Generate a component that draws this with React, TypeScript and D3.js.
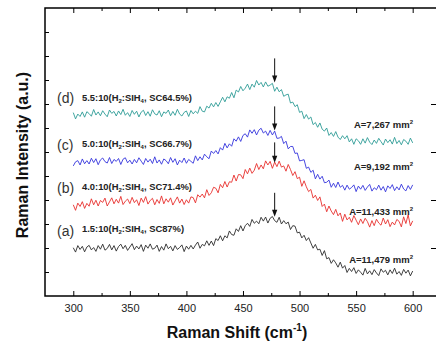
import React, { useEffect, useRef } from 'react';
import * as d3 from 'd3';

const W = 436;
const H = 344;

// raman shift grid (cm-1), every 2 points
const shift = d3.range(300, 601, 2);

const xMajor = [300, 350, 400, 450, 500, 550, 600];
const xMinor = [325, 375, 425, 475, 525, 575];
const yLeftTicks = [1, 2, 3, 4, 5, 6, 7, 8, 9, 10, 11];
const yRightTicks = [2, 4, 6, 8];

// (a) 1.5:10
const curveA = [
  2.01, 1.83, 2.10, 1.94, 2.07, 1.84, 2.04, 2.11, 1.92, 2.02,
  1.86, 2.10, 1.95, 2.16, 1.91, 1.98, 2.15, 1.92, 2.10, 1.87,
  2.06, 2.16, 1.97, 2.11, 1.90, 2.04, 2.18, 1.93, 2.08, 1.96,
  2.14, 1.86, 2.12, 1.99, 2.17, 1.95, 1.99, 2.12, 1.86, 2.06,
  1.91, 2.17, 1.97, 2.07, 1.88, 2.10, 1.94, 2.02, 2.13, 1.85,
  2.08, 1.95, 2.11, 1.96, 2.12, 2.25, 1.99, 2.15, 2.09, 2.30,
  2.11, 2.29, 2.10, 2.39, 2.31, 2.51, 2.30, 2.51, 2.42, 2.71,
  2.56, 2.53, 2.80, 2.69, 2.93, 2.71, 2.93, 3.03, 2.90, 3.19,
  3.03, 3.12, 3.01, 3.28, 3.12, 3.29, 3.04, 3.24, 3.31, 3.14,
  3.07, 3.28, 3.00, 3.14, 3.01, 3.08, 2.77, 2.93, 2.91, 2.63,
  2.66, 2.42, 2.53, 2.31, 2.43, 2.21, 1.99, 2.15, 1.92, 1.95,
  1.69, 1.89, 1.55, 1.60, 1.36, 1.51, 1.38, 1.20, 1.41, 1.16,
  1.27, 0.98, 1.15, 1.02, 1.18, 0.94, 1.09, 0.99, 0.87, 1.15,
  0.92, 1.05, 0.89, 1.10, 0.96, 0.85, 1.13, 0.99, 1.07, 0.88,
  1.09, 0.94, 1.16, 0.91, 1.02, 0.86, 1.11, 0.95, 1.08, 0.84,
  1.04,
];

// (b) 4.0:10
const curveB = [
  3.80, 3.57, 3.87, 3.73, 3.93, 3.65, 3.86, 3.74, 4.05, 3.80,
  3.99, 3.75, 3.98, 3.90, 4.08, 3.75, 3.92, 4.09, 3.84, 4.03,
  3.87, 4.15, 3.81, 3.95, 4.04, 3.85, 4.11, 3.89, 4.01, 3.77,
  4.08, 3.90, 4.14, 3.83, 3.98, 4.07, 3.80, 4.02, 3.86, 4.17,
  3.84, 4.05, 3.91, 4.09, 3.79, 3.96, 4.13, 3.87, 4.04, 3.81,
  4.01, 3.87, 4.13, 4.10, 3.88, 4.22, 4.12, 4.25, 4.09, 4.43,
  4.19, 4.30, 4.53, 4.49, 4.30, 4.65, 4.51, 4.77, 4.54, 4.76,
  4.74, 5.04, 4.79, 5.06, 5.05, 4.89, 5.27, 5.09, 5.33, 5.11,
  5.24, 5.52, 5.27, 5.46, 5.30, 5.63, 5.46, 5.61, 5.32, 5.58,
  5.39, 5.62, 5.37, 5.42, 5.20, 5.48, 5.27, 5.02, 5.18, 4.89,
  4.95, 4.57, 4.80, 4.55, 4.35, 4.44, 4.08, 4.20, 3.98, 4.13,
  3.73, 3.83, 3.51, 3.75, 3.54, 3.39, 3.61, 3.34, 3.46, 3.11,
  3.41, 3.17, 3.28, 3.07, 3.35, 3.16, 2.97, 3.21, 3.02, 3.24,
  3.10, 2.87, 3.14, 2.93, 3.20, 3.04, 2.95, 3.25, 3.00, 3.18,
  2.89, 3.08, 2.96, 3.19, 3.11, 2.88, 3.30, 3.02, 3.38, 2.92,
  3.13,
];

// (c) 5.0:10
const curveC = [
  5.42, 5.59, 5.64, 5.46, 5.71, 5.51, 5.64, 5.50, 5.74, 5.56,
  5.72, 5.47, 5.67, 5.75, 5.60, 5.54, 5.77, 5.52, 5.69, 5.61,
  5.73, 5.48, 5.70, 5.76, 5.55, 5.66, 5.50, 5.69, 5.55, 5.76,
  5.62, 5.48, 5.73, 5.58, 5.70, 5.52, 5.80, 5.54, 5.67, 5.49,
  5.71, 5.64, 5.51, 5.77, 5.57, 5.72, 5.46, 5.66, 5.56, 5.75,
  5.53, 5.69, 5.61, 5.53, 5.84, 5.64, 5.80, 5.67, 5.91, 5.80,
  5.72, 6.04, 5.94, 6.06, 5.92, 6.18, 6.08, 6.36, 6.17, 6.34,
  6.24, 6.55, 6.45, 6.63, 6.44, 6.69, 6.76, 6.62, 6.92, 6.78,
  6.93, 6.71, 6.91, 6.99, 6.79, 6.87, 6.69, 6.90, 6.71, 6.87,
  6.57, 6.58, 6.65, 6.35, 6.45, 6.13, 6.23, 6.23, 5.94, 5.96,
  5.63, 5.65, 5.68, 5.32, 5.37, 5.15, 5.24, 4.88, 5.07, 4.87,
  4.99, 4.72, 4.74, 4.83, 4.53, 4.70, 4.52, 4.75, 4.53, 4.61,
  4.41, 4.62, 4.45, 4.52, 4.63, 4.35, 4.58, 4.45, 4.61, 4.40,
  4.54, 4.65, 4.37, 4.51, 4.43, 4.62, 4.41, 4.56, 4.34, 4.59,
  4.48, 4.64, 4.39, 4.55, 4.42, 4.66, 4.46, 4.38, 4.60, 4.44,
  4.63,
];

// (d) 5.5:10
const curveD = [
  7.64, 7.38, 7.58, 7.48, 7.67, 7.45, 7.68, 7.60, 7.49, 7.77,
  7.54, 7.67, 7.51, 7.72, 7.58, 7.47, 7.75, 7.61, 7.69, 7.50,
  7.71, 7.56, 7.78, 7.53, 7.64, 7.48, 7.73, 7.57, 7.70, 7.46,
  7.66, 7.74, 7.52, 7.68, 7.49, 7.76, 7.59, 7.54, 7.72, 7.47,
  7.67, 7.61, 7.75, 7.51, 7.69, 7.53, 7.78, 7.58, 7.50, 7.65,
  7.71, 7.48, 7.73, 7.59, 7.70, 7.61, 7.89, 7.70, 7.67, 7.91,
  7.83, 8.03, 7.88, 8.06, 7.90, 8.09, 8.28, 8.09, 8.30, 8.24,
  8.48, 8.26, 8.58, 8.50, 8.73, 8.55, 8.66, 8.83, 8.60, 8.83,
  8.70, 8.98, 8.79, 8.90, 8.71, 8.92, 8.74, 8.79, 8.86, 8.53,
  8.70, 8.51, 8.60, 8.32, 8.38, 8.41, 8.04, 8.08, 7.89, 7.97,
  7.65, 7.70, 7.39, 7.56, 7.37, 7.46, 7.14, 7.23, 7.03, 7.21,
  6.95, 6.87, 7.00, 6.69, 6.81, 6.65, 6.85, 6.62, 6.52, 6.68,
  6.55, 6.68, 6.42, 6.55, 6.32, 6.55, 6.47, 6.32, 6.55, 6.37,
  6.60, 6.41, 6.31, 6.50, 6.36, 6.57, 6.43, 6.29, 6.54, 6.39,
  6.51, 6.33, 6.61, 6.35, 6.48, 6.30, 6.52, 6.45, 6.32, 6.58,
  6.38,
];

const curves = [curveA, curveB, curveC, curveD];
const colors = ['#2b2b2b', '#e8302e', '#3434dc', '#2e9c96'];
const letters = ['(a)', '(b)', '(c)', '(d)'];
const ratios = ['1.5:10', '4.0:10', '5.0:10', '5.5:10'];
const crystal = ['SC87%', 'SC71.4%', 'SC66.7%', 'SC64.5%'];
const areas = ['A=11,479 mm', 'A=11,433 mm', 'A=9,192 mm', 'A=7,267 mm'];

// arrows marking the crystalline peak
const arrowShift = 478;
const arrowFrom = [4.3, 6.4, 7.9, 9.9];
const arrowTo = [3.3, 5.55, 6.9, 8.9];

// label baselines (px)
const letterY = [236, 193, 150, 103];
const nameY = [232, 190, 147, 101];
const areaY = [263, 215, 170, 128];

const FONT = 'Arial, "Liberation Sans", sans-serif';

function RamanChart() {
  const svgRef = useRef<SVGSVGElement>(null);

  useEffect(() => {
    const svg = d3.select(svgRef.current);
    svg.selectAll('*').remove();

    const left = 45, right = 437, top = 8, bottom = 296;
    const x = d3.scaleLinear().domain([275, 621.5]).range([left, right]);
    const y = d3.scaleLinear().domain([0, 12]).range([bottom, top]);

    // curves
    const line = d3.line<number>()
      .x((d, i) => x(shift[i]))
      .y(d => y(d));

    svg.selectAll('.curve')
      .data(curves)
      .join('path')
      .attr('class', 'curve')
      .attr('d', d => line(d))
      .attr('fill', 'none')
      .attr('stroke', (d, i) => colors[i])
      .attr('stroke-width', 0.9)
      .attr('stroke-linejoin', 'round');

    // frame
    svg.append('path')
      .attr('d', `M${left},${top}H${right}V${bottom}H${left}Z`)
      .attr('fill', 'none').attr('stroke', '#000').attr('stroke-width', 1.5);

    const styleAxis = (g: any) => {
      g.select('.domain').remove();
      g.selectAll('line').attr('stroke', '#000').attr('stroke-width', 1);
    };

    // bottom axis
    svg.append('g')
      .attr('transform', `translate(0,${bottom})`)
      .call(d3.axisBottom(x).tickValues(xMajor).tickSize(-5).tickPadding(8).tickFormat(d3.format('d')))
      .call(styleAxis)
      .call(g => g.selectAll('text')
        .attr('font-family', FONT).attr('font-size', 11).attr('fill', '#222'));
    svg.append('g')
      .attr('transform', `translate(0,${bottom})`)
      .call(d3.axisBottom(x).tickValues(xMinor).tickSize(-3).tickFormat(() => ''))
      .call(styleAxis);

    // top axis
    svg.append('g')
      .attr('transform', `translate(0,${top})`)
      .call(d3.axisTop(x).tickValues(xMajor).tickSize(-5).tickFormat(() => ''))
      .call(styleAxis);
    svg.append('g')
      .attr('transform', `translate(0,${top})`)
      .call(d3.axisTop(x).tickValues(xMinor).tickSize(-3).tickFormat(() => ''))
      .call(styleAxis);

    // left / right axes
    svg.append('g')
      .attr('transform', `translate(${left},0)`)
      .call(d3.axisLeft(y).tickValues(yLeftTicks).tickSize(-4).tickFormat(() => ''))
      .call(styleAxis);
    svg.append('g')
      .attr('transform', `translate(${right},0)`)
      .call(d3.axisRight(y).tickValues(yRightTicks).tickSize(-6).tickFormat(() => ''))
      .call(styleAxis);

    // arrows
    const ax = x(arrowShift);
    arrowFrom.forEach((v, i) => {
      const y0 = y(v), y1 = y(arrowTo[i]);
      svg.append('line')
        .attr('x1', ax).attr('x2', ax).attr('y1', y0).attr('y2', y1 - 5)
        .attr('stroke', '#111').attr('stroke-width', 1);
      svg.append('path')
        .attr('d', `M${ax - 2.6},${y1 - 7}L${ax + 2.6},${y1 - 7}L${ax},${y1}Z`)
        .attr('fill', '#111');
    });

    // curve labels
    letters.forEach((t, i) => {
      svg.append('text')
        .attr('x', 57).attr('y', letterY[i])
        .attr('font-family', FONT).attr('font-size', 14).attr('fill', '#333')
        .text(t);

      const name = svg.append('text')
        .attr('x', 82).attr('y', nameY[i])
        .attr('font-family', FONT).attr('font-size', 9.4).attr('font-weight', 'bold').attr('fill', '#222');
      name.append('tspan').text(`${ratios[i]}(H`);
      name.append('tspan').attr('font-size', 6).attr('dy', 2).text('2');
      name.append('tspan').attr('dy', -2).text(':SIH');
      name.append('tspan').attr('font-size', 6).attr('dy', 2).text('4');
      name.append('tspan').attr('dy', -2).text(`, ${crystal[i]})`);

      const area = svg.append('text')
        .attr('x', 413).attr('y', areaY[i]).attr('text-anchor', 'end')
        .attr('font-family', FONT).attr('font-size', 9.5).attr('font-weight', 'bold').attr('fill', '#222');
      area.append('tspan').text(areas[i]);
      area.append('tspan').attr('font-size', 6).attr('dy', -4).text('2');
    });

    // axis titles
    const xt = svg.append('text')
      .attr('x', 237).attr('y', 338).attr('text-anchor', 'middle')
      .attr('font-family', FONT).attr('font-size', 16).attr('font-weight', 'bold').attr('fill', '#111');
    xt.append('tspan').text('Raman Shift (cm');
    xt.append('tspan').attr('font-size', 10).attr('dy', -7).text('-1');
    xt.append('tspan').attr('dy', 7).text(')');

    svg.append('text')
      .attr('transform', 'translate(28,155) rotate(-90)')
      .attr('text-anchor', 'middle')
      .attr('font-family', FONT).attr('font-size', 16).attr('font-weight', 'bold').attr('fill', '#111')
      .text('Raman Intensity (a.u.)');
  }, []);

  return (
    <svg
      ref={svgRef}
      width={W}
      height={H}
      style={{ position: 'absolute', left: 0, top: 0, background: '#fff' }}
    />
  );
}

export default function App() {
  return <RamanChart />;
}
